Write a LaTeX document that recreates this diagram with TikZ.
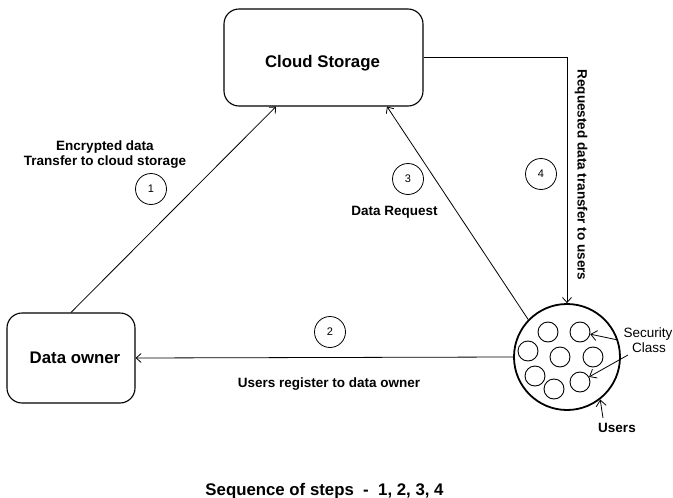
\documentclass[tikz,border=0pt]{standalone}
\usepackage{fontspec}
\setmainfont{Liberation Sans}
\usetikzlibrary{arrows.meta}
\begin{document}
\begin{tikzpicture}[x=1pt,y=-1pt,
  box/.style={draw,line width=1.1pt,rounded corners=15pt,font=\fontsize{16.8}{20}\selectfont\bfseries},
  lbl/.style={anchor=base,font=\fontsize{13.5}{16}\selectfont\bfseries,inner sep=0pt},
  note/.style={anchor=base,font=\fontsize{13.5}{16}\selectfont,inner sep=0pt},
  stepno/.style={draw,circle,line width=0.8pt,minimum size=31pt,inner sep=0pt,font=\fontsize{11}{13}\selectfont},
  member/.style={draw,circle,line width=0.9pt,minimum size=20pt,inner sep=0pt},
  flow/.style={line width=0.8pt,-{Straight Barb[length=5pt,width=9pt]}},
  pointer/.style={line width=0.8pt,-{Straight Barb[length=6pt,width=10pt]}}]
\useasboundingbox (0,0) rectangle (673,498);

% main parties
\node[box,minimum width=199pt,minimum height=97pt] (cloud) at (323.5,57.5) {};
\node[lbl,font=\fontsize{16.8}{20}\selectfont\bfseries] (cloudtxt) at (322.5,67) {Cloud Storage};
\node[box,minimum width=128pt,minimum height=90pt] (owner) at (71,358) {};
\node[lbl,font=\fontsize{16.8}{20}\selectfont\bfseries] (ownertxt) at (75,363) {Data owner};
\node[draw,circle,line width=1.8pt,minimum size=106pt,inner sep=0pt] (users) at (567,357) {};

% security classes inside the user group
\node[member] (m1) at (548,332) {};
\node[member] (m2) at (580,332) {};
\node[member] (m3) at (528,351) {};
\node[member] (m4) at (560,357) {};
\node[member] (m5) at (593,357) {};
\node[member] (m6) at (535,376) {};
\node[member] (m7) at (554,389) {};
\node[member] (m8) at (580,382) {};

% flows between parties
\draw[flow] (owner.north) -- ([xshift=-47.5pt]cloud.south);
\draw[flow] (users.west) -- (owner.east);
\draw[flow] (users.136) -- ([xshift=63.5pt]cloud.south);
\draw[flow] (cloud.east) -| (users.north);

% step numbers
\node[stepno] (s1) at (151,189) {1};
\node[stepno] (s2) at (330,332) {2};
\node[stepno] (s3) at (408,179) {3};
\node[stepno] (s4) at (541,174) {4};

% flow labels
\node[lbl] (l1a) at (105,150) {Encrypted data};
\node[lbl] (l1b) at (105,165) {Transfer to cloud storage};
\node[lbl] (l2) at (329,387) {Users register to data owner};
\node[lbl] (l3) at (394.5,215) {Data Request};
\node[font=\fontsize{13.5}{16}\selectfont\bfseries,rotate=-90,inner sep=0pt] (l4) at (581,175) {Requested data transfer to users};

% annotations of the user group
\node[note] (sec) at (648,337) {Security};
\node[note] (cls) at (649,352) {Class};
\coordinate (secA) at (618,340);
\coordinate (secB) at (628,355);
\draw[pointer] (secA) -- (m2);
\draw[pointer] (secB) -- (m8);
\node[lbl] (ulbl) at (617,432) {Users};
\coordinate (uA) at (603,418);
\draw[pointer] (uA) -- (users.-52);

\node[lbl,font=\fontsize{16.8}{20}\selectfont\bfseries] (seq) at (324.5,495) {Sequence of steps \ - \ 1, 2, 3, 4};
\end{tikzpicture}
\end{document}
